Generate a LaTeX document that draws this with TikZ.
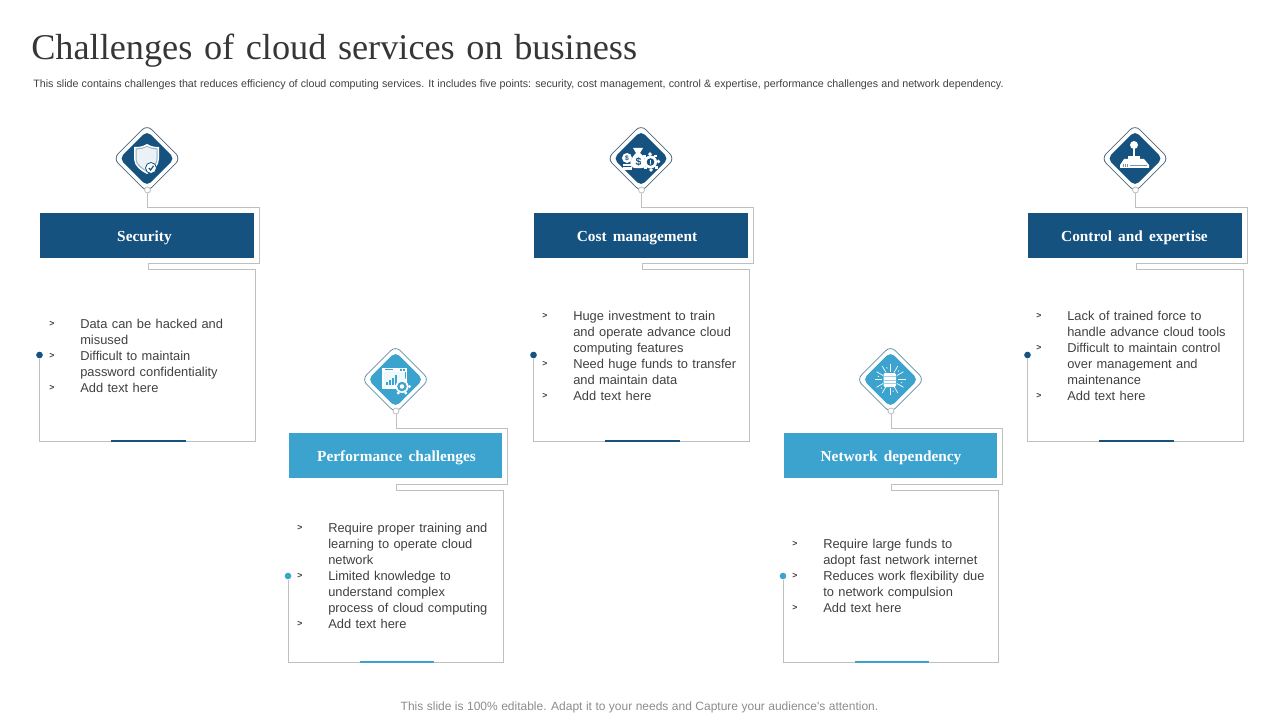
\documentclass[tikz,border=0pt]{standalone}
\usepackage{fontspec}
\newfontfamily\titlefont{Liberation Serif}
\newfontfamily\bodyfont{Liberation Sans}
\usetikzlibrary{shapes.geometric,positioning,calc}
\definecolor{navy}{HTML}{15527F}
\definecolor{sky}{HTML}{3CA3CF}
\definecolor{framegray}{HTML}{BFBFBF}
\definecolor{bodygray}{HTML}{404040}
\tikzset{
  frameline/.style={draw=framegray,line width=0.75pt},
  headbox/.style={rectangle,minimum width=160pt,minimum height=33.75pt,inner sep=0pt},
  headtext/.style={inner sep=0pt,text=white,text height=8pt,text depth=2.5pt,font=\titlefont\bfseries\fontsize{11.5}{14}\selectfont\spaceskip 4.6pt\relax},
  iconout/.style={diamond,draw=#1,fill=white,line width=0.6pt,rounded corners=5pt,minimum size=50.7pt,inner sep=0pt},
  iconin/.style={diamond,fill=#1,rounded corners=4pt,minimum size=41.6pt,inner sep=0pt},
  knob/.style={circle,draw=framegray,fill=white,line width=0.6pt,minimum size=4.5pt,inner sep=0pt},
  enddot/.style={circle,fill=#1,minimum size=5pt,inner sep=0pt},
  basebar/.style={rectangle,fill=#1,minimum width=56pt,inner sep=0pt},
  bodytext/.style={anchor=north west,inner sep=0pt,align=left,text=bodygray,font=\bodyfont\fontsize{9.65}{12}\selectfont\spaceskip 3.3pt\relax},
  bulletmark/.style={inner sep=0pt,text=bodygray,font=\bodyfont\bfseries\fontsize{6.5}{8}\selectfont},
  iconline/.style={draw=white,line width=0.5pt},
  shieldicon/.pic={
    \fill[white] (0,-15) .. controls (5,-12) and (9,-12) .. (12,-12) -- (12,0) .. controls (12,7) and (6,12) .. (0,15) .. controls (-6,12) and (-13,7) .. (-13,0) -- (-13,-12) .. controls (-9,-12) and (-5,-12) .. (0,-15) -- cycle;
    \fill[navy!45!white] (0,-13) .. controls (4,-11) and (7,-11) .. (10.5,-10.5) -- (10.5,0) .. controls (10.5,6) and (5,10) .. (0,13) .. controls (-5,10) and (-11.5,6) .. (-11.5,0) -- (-11.5,-10.5) .. controls (-7,-11) and (-4,-11) .. (0,-13) -- cycle;
    \fill[white!92!navy] (0,-12) .. controls (3,-10) and (6,-10) .. (9.5,-9.5) -- (9.5,0) .. controls (9.5,5) and (4,9) .. (0,12) .. controls (-4,9) and (-10.5,5) .. (-10.5,0) -- (-10.5,-9.5) .. controls (-6,-10) and (-3,-10) .. (0,-12) -- cycle;
    \draw[fill=white,draw=navy,line width=0.6pt] (4,9) circle (5.5);
    \draw[navy,line width=0.9pt] (1.8,9) -- (3.6,11) -- (6.6,6.8);
  },
  moneyicon/.pic={
    % coin stack
    \fill[white] (-14,-1) circle (5);
    \fill[white] (-18.5,5) rectangle (-9,7.5);
    \fill[white] (-18.5,8.5) rectangle (-9,11);
    \node (moneycoin) at (-14,-1) {\color{navy}\bodyfont\bfseries\fontsize{5}{5}\selectfont \$};
    % bag
    \fill[white] (-8,-11) -- (2,-11) -- (-1,-6) .. controls (4,-2) and (6,3) .. (5,7) .. controls (4,10) and (-9,10) .. (-10,7) .. controls (-12,3) and (-9,-2) .. (-5,-6) -- cycle;
    \node (moneybag) at (-2.5,3) {\color{navy}\bodyfont\bfseries\fontsize{8}{8}\selectfont \$};
    % gear
    \foreach \a in {0,45,...,315}
      \fill[white] ($(9.5,3)+(\a:6.5)$) ++(\a+45:2) -- ++(\a-45:2.8) -- ++(\a-135:2.8) -- ++(\a+135:2.8) -- cycle;
    \fill[white] (9.5,3) circle (6.5);
    \fill[navy] (9.5,3) circle (3.8);
    \fill[white] (8.8,0.6) rectangle (10.2,3.6);
    \fill[white] (9.5,4.9) circle (0.8);
  },
  joystickicon/.pic={
    \fill[white] (-1,-14) circle (4);
    \fill[white] (-2,-11) rectangle (0,-3);
    \fill[white] (-7,-3) rectangle (5,0);
    \fill[white] (-11,0) -- (9,0) -- (14,6) -- (14,9) -- (-15,9) -- (-15,6) -- cycle;
    \foreach \x in {-12,-10,...,-8}
      \draw[navy!60!white,line width=0.4pt] (\x,5) -- (\x,8);
    \draw[navy!60!white,line width=0.4pt] (-5,6) -- (12,6);
  },
  browsericon/.pic={
    \fill[white] (-14,-12) rectangle (11,9);
    \fill[sky] (-12.5,-8) rectangle (9.5,7.5);
    \fill[white!92!sky] (-12,-8) rectangle (9,7);
    \draw[sky,line width=0.5pt] (-11,-10) -- (-3,-10);
    \fill[sky] (4,-11) rectangle (5.5,-9);
    \fill[sky] (7,-11) rectangle (8.5,-9);
    \foreach \x/\h in {-10/3,-7/5,-4/7,-1/10}
      \fill[sky] (\x,5) rectangle (\x+2,5-\h);
    \foreach \a in {0,60,...,300}
      \fill[white] ($(6,7)+(\a:7.5)$) circle (1.7);
    \fill[white] (6,7) circle (6.5);
    \fill[sky] (6,7) circle (4.8);
    \fill[white] (6,7) circle (2.3);
  },
  networkicon/.pic={
    \foreach \a in {0,30,...,330}
      \draw[iconline] (\a:8) -- (\a:15.5);
    \foreach \a in {15,75,...,315}
      \fill[white] (\a:12) circle (0.7);
    \fill[white,rounded corners=1pt] (-6.5,-6.5) rectangle (6,7.5);
    \foreach \y in {-3,0.5,4}
      \draw[sky!50!white,line width=0.4pt] (-6.5,\y) -- (6,\y);
  }
}

\begin{document}
\begin{tikzpicture}[x=0.75pt,y=-0.75pt]
  \useasboundingbox (0,0) rectangle (1280,720);
  \node (slidetitle) [anchor=west,inner sep=0pt,text=bodygray!85!black] at (31,51) {\titlefont\fontsize{27.2}{30}\selectfont\spaceskip 8.7pt\relax Challenges of cloud services on business};
  \node (slidenote) [anchor=west,inner sep=0pt,text=bodygray] at (33,85) {\bodyfont\fontsize{8.03}{10}\selectfont\spaceskip 2.34pt\relax This slide contains challenges that reduces efficiency of cloud computing services. It includes five points: security, cost management, control \& expertise, performance challenges and network dependency.};

  % five cards, each one shifted from the first
  \foreach \nm/\dx/\dy/\hy/\tx/\bh/\col/\ttl in {sec/0/0/235.5/144.5/2.2/navy/Security,cost/494/0/235.5/637/2.2/navy/Cost management,ctrl/988/0/235.5/1134.5/2.2/navy/Control and expertise,perf/248.5/221/455.5/396.5/1.5/sky/Performance challenges,net/743.5/221/455.5/891/1.5/sky/Network dependency} {
    \node (\nm-outer) [iconout=\col!50!gray] at (147+\dx,159+\dy-0.5) {};
    \node (\nm-inner) [iconin=\col] at (\nm-outer.center) {};
    \node (\nm-knob) [knob] at (147.5+\dx,190+\dy) {};
    \node (\nm-head) [headbox,fill=\col] at (147+\dx,\hy) {};
    \node (\nm-title) [headtext] at (\tx,\hy+2.5) {\ttl};
    \node (\nm-dot) [enddot=\col] at (39.5+\dx,355+\dy) {};
    \draw[frameline] (\nm-knob.south) -- ++(0,14) -- ++(111.5,0) -- ++(0,56) -- ++(-111,0) -- ++(0,6) -- ++(107,0) -- ++(0,172) -| (\nm-dot.south);
    \node (\nm-bar) [basebar=\col,minimum height=\bh pt] at (148.5+\dx,441+\dy) {};
  }

  \pic at (147,159) {shieldicon};
  \pic at (641,159) {moneyicon};
  \pic at (1135,159) {joystickicon};
  \pic at (396,379.5) {browsericon};
  \pic at (890,379.5) {networkicon};

  \node (sec-text) [bodytext] at (80,319) {Data can be hacked and\\misused\\Difficult to maintain\\password confidentiality\\Add text here};
  \foreach \y in {324,356,388}
    \node (sec-b\y) [bulletmark] at (52,\y) {>};
  \node (cost-text) [bodytext] at (573,311) {Huge investment to train\\and operate advance cloud\\computing features\\Need huge funds to transfer\\and maintain data\\Add text here};
  \foreach \y in {316,364,396}
    \node (cost-b\y) [bulletmark] at (545,\y) {>};
  \node (ctrl-text) [bodytext] at (1067,311) {Lack of trained force to\\handle advance cloud tools\\Difficult to maintain control\\over management and\\maintenance\\Add text here};
  \foreach \y in {316,348,396}
    \node (ctrl-b\y) [bulletmark] at (1039,\y) {>};
  \node (perf-text) [bodytext] at (328,523) {Require proper training and\\learning to operate cloud\\network\\Limited knowledge to\\understand complex\\process of cloud computing\\Add text here};
  \foreach \y in {528,576,624}
    \node (perf-b\y) [bulletmark] at (300,\y) {>};
  \node (net-text) [bodytext] at (823,539) {Require large funds to\\adopt fast network internet\\Reduces work flexibility due\\to network compulsion\\Add text here};
  \foreach \y in {544,576,608}
    \node (net-b\y) [bulletmark] at (795,\y) {>};

  \node (slidefoot) [inner sep=0pt,text=black!45] at (639.5,707) {\bodyfont\fontsize{9}{11}\selectfont\spaceskip 2.6pt\relax This slide is 100\% editable. Adapt it to your needs and Capture your audience's attention.};
\end{tikzpicture}
\end{document}
